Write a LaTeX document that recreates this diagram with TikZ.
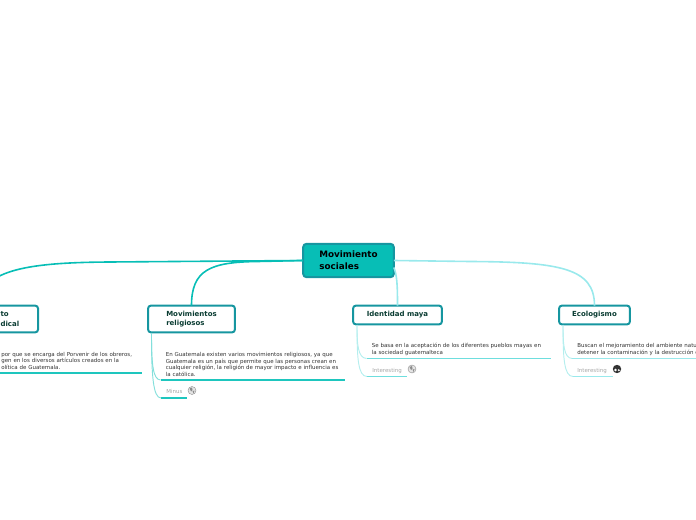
\documentclass[tikz,border=0pt]{standalone}
\usepackage{fontspec}
\setmainfont{DejaVu Sans}
\usepackage{tikz}
\usetikzlibrary{positioning}
\definecolor{myteal}{RGB}{7,190,182}
\definecolor{myborder}{RGB}{22,150,160}
\definecolor{mylight}{RGB}{153,233,236}
\definecolor{mypale}{RGB}{180,238,238}
\definecolor{myunder}{RGB}{30,198,190}
\definecolor{mymid}{RGB}{110,222,222}
\definecolor{mydark}{RGB}{10,60,50}
\definecolor{mytext}{RGB}{50,50,50}
\tikzset{
  node main/.style={draw=myborder,fill=myteal,line width=1.5pt,rounded corners=2.5pt,outer sep=0pt,
    minimum width=68pt,minimum height=25pt,align=left,font=\fontsize{6.6}{9.2}\selectfont\bfseries},
  node topic/.style={draw=myborder,fill=white,text=mydark,line width=1.5pt,rounded corners=2pt,outer sep=0pt,
    minimum height=14pt,align=left,font=\fontsize{5.25}{7.2}\selectfont\bfseries},
  node note/.style={anchor=south west,inner xsep=4pt,inner ysep=2.5pt,outer sep=0pt,text=mytext,align=left,
    font=\fontsize{4.12}{5}\selectfont},
  node tag/.style={anchor=west,inner sep=0pt,text=black!35,font=\fontsize{4.12}{5}\selectfont},
  connect dark/.style={myteal,line width=1.2pt},
  connect light/.style={mylight,line width=1.2pt},
  under dark/.style={draw=myunder,line width=0.9pt},
  under mid/.style={draw=mymid,line width=0.9pt},
  under light/.style={draw=mylight,line width=0.9pt},
  stem dark/.style={myteal!50!white,line width=0.7pt},
  stem light/.style={mypale,line width=0.7pt}
}

\begin{document}
\begin{tikzpicture}[x=0.75pt,y=-0.75pt]
  \useasboundingbox (0,0) rectangle (696,520);
  \clip (0,0) rectangle (696,520);

  % Centre and topics
  \node[node main] (main) at (348.5,260.5) {Movimiento\\sociales};
  \node[node topic,minimum width=88.5pt,minimum height=20pt] (sindical) at (-21,319) {};
  \node[node topic,draw=none,fill=none,anchor=west,inner sep=0pt,minimum width=0pt,minimum height=0pt] (sindicaltext) at (0.5,319) {to\\dical};
  \node[node topic,minimum width=65pt,minimum height=20pt] (religiosos) at (191.5,319) {Movimientos\\religiosos};
  \node[node topic,minimum width=66.5pt] (maya) at (397.5,315) {Identidad maya};
  \node[node topic,minimum width=53pt] (eco) at (594.5,315) {Ecologismo};

  % Branches from the centre
  \draw[connect dark] (main.west) -- (110,262) .. controls (35,262.5) and (-21,268) .. (sindical.north);
  \draw[connect dark] (main.west) -- (258,261.5) .. controls (210,262) and (191.5,270) .. (religiosos.north);
  \draw[connect light] (main.east) ++(0,7) .. controls (397,275) and (397.5,285) .. (maya.north);
  \draw[connect light] (main.east) -- (470,261.5) .. controls (560,262) and (594.5,268) .. (eco.north);

  % Notes
  \node[node note,text width=101.5pt] (sindicalnote) at (-4,373) {por que se encarga del Porvenir de los obreros,\\gen en los diversos artículos creados en la\\olítica de Guatemala.};
  \node[node note,text width=130pt] (religiososnote) at (160.5,380) {En Guatemala existen varios movimientos religiosos, ya que\\Guatemala es un país que permite que las personas crean en\\cualquier religión, la religión de mayor impacto e influencia es\\la católica.};
  \node[node note,text width=130pt] (mayanote) at (366.5,358.5) {Se basa en la aceptación de los diferentes pueblos mayas en\\la sociedad guatemalteca};
  \node[node note,text width=130pt] (econote) at (572,358.5) {Buscan el mejoramiento del ambiente natu\\detener la contaminación y la destrucción d};

  \draw[under dark] (sindicalnote.south west) -- (sindicalnote.south east);
  \draw[under dark] (religiososnote.south west) -- (religiososnote.south east);
  \draw[under mid] (mayanote.south west) -- (mayanote.south east);
  \draw[under light] (econote.south west) -- (econote.south east);

  % Tags
  \node[node tag] (minus) at (166,391) {Minus};
  \node[node tag] (interesa) at (372,370.5) {Interesting};
  \node[node tag] (interesb) at (577,370.5) {Interesting};
  \coordinate (minusa) at (161,398);
  \coordinate (minusb) at (187,398);
  \coordinate (mayaa) at (367,376.5);
  \coordinate (mayab) at (407,376.5);
  \coordinate (ecoa) at (573,376.5);
  \coordinate (ecob) at (613,376.5);
  \draw[under dark] (minusa) -- (minusb);
  \draw[under mid] (mayaa) -- (mayab);
  \draw[under light] (ecoa) -- (ecob);

  % Stems under the topics
  \draw[stem dark] (151.5,333) .. controls (151.5,365) and (153,379.5) .. (religiososnote.south west);
  \draw[stem dark] (151.5,333) .. controls (151.5,375) and (153,398) .. (minusa);
  \draw[stem light] (357,325) .. controls (357,345) and (358,358) .. (mayanote.south west);
  \draw[stem light] (357,325) .. controls (357,358) and (358,376.5) .. (mayaa);
  \draw[stem light] (563,325) .. controls (563,345) and (564,358) .. (econote.south west);
  \draw[stem light] (563,325) .. controls (563,358) and (564,376.5) .. (ecoa);

  % Icons
  \foreach \ix/\iy in {192/390.5,412/369} {
    \fill[black!10] (\ix,\iy) circle (4);
    \draw[black!45,line width=0.3pt] (\ix,\iy) circle (4);
    \fill[black!45] (\ix-2.5,\iy-2) -- (\ix,\iy-3) -- (\ix+0.5,\iy-0.5) -- (\ix-1,\iy+1) -- cycle;
    \fill[black!45] (\ix+0.5,\iy+0.5) -- (\ix+2.5,\iy) -- (\ix+1.5,\iy+3) -- cycle;
  }
  \fill[black!80] (617,369) circle (4.2);
  \fill[white] (615.5,370) circle (1.3);
  \fill[white] (618.8,370.2) circle (1.1);
\end{tikzpicture}
\end{document}
